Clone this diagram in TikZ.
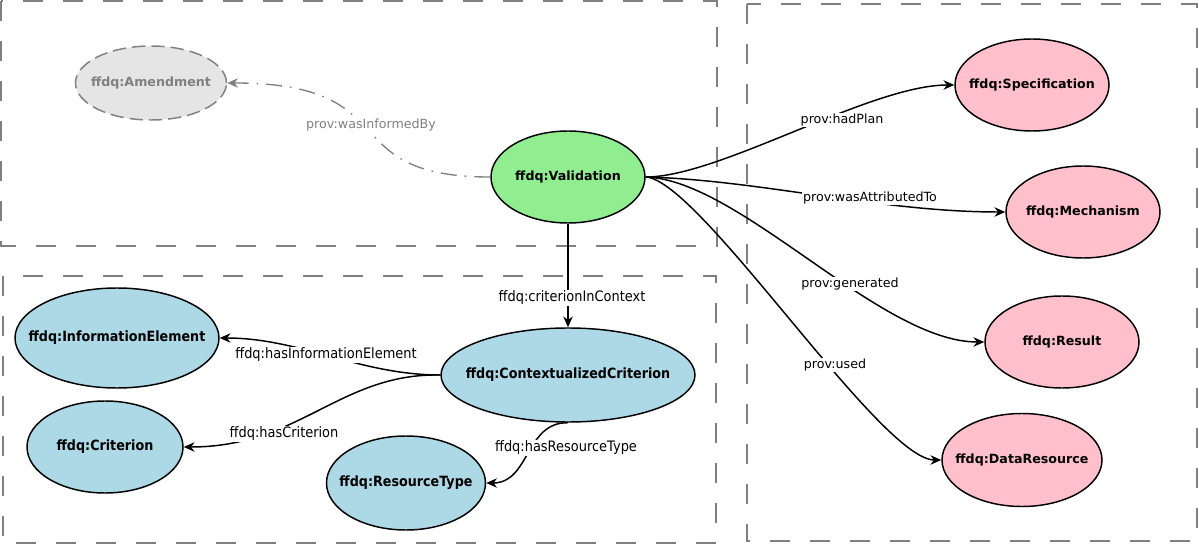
\documentclass[tikz,border=0pt]{standalone}
\usepackage{fontspec}
\setmainfont{DejaVu Sans}
\newfontfamily\condfont[FakeStretch=0.9]{DejaVu Sans}
\usetikzlibrary{shapes.geometric,arrows.meta}
\definecolor{vgreen}{HTML}{90EE90}
\definecolor{rpink}{HTML}{FFC0CB}
\definecolor{lblue}{HTML}{ADD8E6}
\definecolor{agray}{HTML}{E5E5E5}
\definecolor{dgray}{HTML}{808080}
\newcommand{\zb}[1]{\makebox[0pt]{#1}}
\begin{document}
\begin{tikzpicture}[x=0.75pt,y=-0.75pt,
  esize/.style 2 args={minimum width=#1*0.75pt, minimum height=#2*0.75pt},
  ent/.style={ellipse,draw=black,line width=1.1pt,inner sep=0pt,
    font=\fontsize{9.5}{11}\selectfont\bfseries},
  cent/.style={ent,fill=lblue,font=\condfont\fontsize{10.6}{12}\selectfont\bfseries},
  pent/.style={ent,fill=rpink},
  cluster/.style={draw=dgray,line width=1.2pt,dash pattern=on 15pt off 15pt},
  edge/.style={draw=black,line width=1.1pt,-{Stealth[length=8pt,width=7pt,inset=2.5pt]}},
  gedge/.style={draw=dgray,line width=1pt,dash pattern=on 12pt off 6pt on 1.2pt off 6pt,
    -{Stealth[length=8pt,width=7pt,inset=2.5pt]}},
  lab/.style={fill=white,inner sep=0.8pt,font=\fontsize{9.5}{11}\selectfont},
  clab/.style={fill=white,inner sep=0.8pt,font=\condfont\fontsize{10.8}{12}\selectfont},
]
\useasboundingbox (0,0) rectangle (1199,545);

% clusters
\draw[cluster] (1,1) rectangle (717,246);
\draw[cluster] (3,276) rectangle (716,543);
\draw[cluster] (747,4) rectangle (1197,541);

% nodes
\node[ent,fill=agray,draw=dgray,text=dgray,dash pattern=on 10pt off 4.5pt,esize={151}{74}] (amd) at (151,83) {\zb{ffdq:Amendment}};
\node[ent,fill=vgreen,esize={154}{92}] (val) at (568,177) {\zb{ffdq:Validation}};
\node[pent,esize={154}{92}] (spec) at (1032,85) {\zb{ffdq:Specification}};
\node[pent,esize={154}{92}] (mech) at (1083,212) {\zb{ffdq:Mechanism}};
\node[pent,esize={154}{92}] (res) at (1062,342) {\zb{ffdq:Result}};
\node[pent,esize={160}{93}] (dat) at (1022,460) {\zb{ffdq:DataResource}};
\node[cent,esize={204}{100}] (ie) at (117,338) {\zb{ffdq:InformationElement}};
\node[cent,esize={254}{94}] (cc) at (568,375) {\zb{ffdq:ContextualizedCriterion}};
\node[cent,esize={156}{92}] (crit) at (105,447) {\zb{ffdq:Criterion}};
\node[cent,esize={159}{94}] (rt) at (406,483) {\zb{ffdq:ResourceType}};

% edges
\draw[gedge] (val.west) .. controls (330,177) and (410,83) .. (amd.east);
\draw[edge] (val.east) .. controls (720,177) and (870,85) .. (spec.west);
\draw[edge] (val.east) .. controls (760,180) and (880,212) .. (mech.west);
\draw[edge] (val.east) .. controls (740,180) and (880,342) .. (res.west);
\draw[edge] (val.east) .. controls (700,180) and (880,460) .. (dat.west);
\draw[edge] (val.south) -- (cc.north);
\draw[edge] (cc.west) .. controls (360,375) and (300,338) .. (ie.east);
\draw[edge] (cc.west) .. controls (340,373) and (300,447) .. (crit.east);
\draw[edge] (cc.south) .. controls (525,422) and (530,483) .. (rt.east);

% labels
\node[lab,text=dgray] (l0) at (371,125) {prov:wasInformedBy};
\node[lab] (l1) at (842,120) {prov:hadPlan};
\node[lab] (l2) at (870,198) {prov:wasAttributedTo};
\node[lab] (l3) at (850,284) {prov:generated};
\node[lab] (l4) at (835,365) {prov:used};
\node[clab] (l5) at (572,298) {ffdq:criterionInContext};
\node[clab] (l6) at (326,355) {ffdq:hasInformationElement};
\node[clab] (l7) at (284,434) {ffdq:hasCriterion};
\node[clab] (l8) at (566,448) {ffdq:hasResourceType};
\end{tikzpicture}
\end{document}
